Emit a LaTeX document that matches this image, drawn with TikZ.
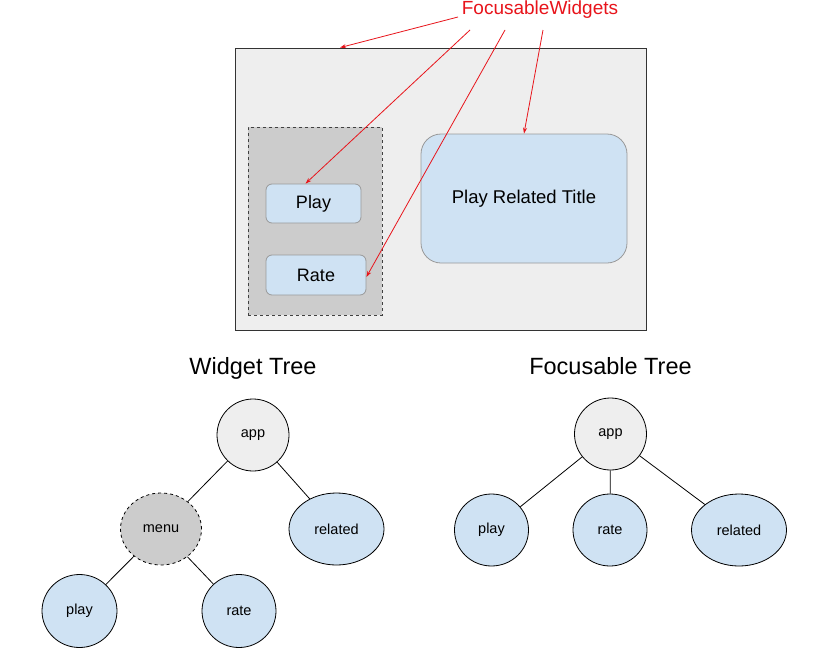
\documentclass[tikz,border=0pt]{standalone}
\usepackage{fontspec}
\setmainfont{Liberation Sans}
\usetikzlibrary{shapes.geometric,arrows.meta}
\definecolor{boxgray}{HTML}{EEEEEE}
\definecolor{midgray}{HTML}{CCCCCC}
\definecolor{lblue}{HTML}{CFE2F3}
\definecolor{bordergray}{HTML}{999999}
\definecolor{redline}{HTML}{E8141B}
\tikzset{
  btn/.style={draw=bordergray, fill=lblue, rounded corners=6pt, line width=0.8pt, font=\fontsize{18}{20}\selectfont, inner sep=0pt},
  tnode/.style={ellipse, draw=black, line width=0.8pt, font=\fontsize{14.5}{16}\selectfont, inner sep=0pt},
  leaf/.style={tnode, fill=lblue},
  rootnode/.style={tnode, fill=boxgray},
  redarrow/.style={draw=redline, line width=0.8pt, -{Stealth[length=6pt,width=4pt]}},
  edge/.style={draw=black, line width=0.8pt},
  treetitle/.style={font=\fontsize{23.5}{26}\selectfont, anchor=base, inner sep=0pt}
}
\begin{document}
\begin{tikzpicture}[x=1pt,y=-1pt]
\useasboundingbox[fill=white] (0,0) rectangle (830,648);
% screen mock-up
\node[draw=black!80, fill=boxgray, line width=0.8pt, minimum width=411pt, minimum height=282pt, inner sep=0pt] (outer) at (440.5,189) {};
\node[draw=black!75, fill=midgray, dashed, line width=0.8pt, minimum width=134pt, minimum height=188pt, inner sep=0pt] (menubox) at (315,221) {};
\node[btn, minimum width=95pt, minimum height=39pt] (play) at (313.5,203.5) {Play};
\node[btn, minimum width=100pt, minimum height=40pt] (rate) at (316,275) {Rate};
\node[btn, rounded corners=20pt, minimum width=206pt, minimum height=129pt, font=\fontsize{18.5}{20}\selectfont] (prt) at (524,198.5) {Play Related Title};
% label and arrows
\node[text=redline, font=\fontsize{19}{21}\selectfont, inner sep=0pt] (fw) at (540,9.5) {FocusableWidgets};
\coordinate (s1) at (458,17);
\coordinate (s2) at (470,30);
\coordinate (s3) at (505,30);
\coordinate (s4) at (543,30);
\draw[redarrow] (s1) -- ([xshift=-100.5pt]outer.north);
\draw[redarrow] (s2) -- ([xshift=-8pt]play.north);
\draw[redarrow] (s3) -- ([yshift=-2pt]rate.east);
\draw[redarrow] (s4) -- (prt.north);
% widget tree
\node[treetitle] (wt) at (253,374) {Widget Tree};
\node[rootnode, minimum width=72pt, minimum height=72pt] (wapp) at (253,435) {app};
\node[tnode, fill=midgray, dashed, minimum width=81pt, minimum height=72pt] (wmenu) at (161,529) {menu};
\node[leaf, minimum width=95pt, minimum height=72pt] (wrel) at (336.5,529) {related};
\node[leaf, minimum width=75pt, minimum height=73pt] (wplay) at (79.5,611) {play};
\node[leaf, minimum width=74pt, minimum height=73pt] (wrate) at (239,611) {rate};
\draw[edge] (wapp) -- (wmenu);
\draw[edge] (wapp) -- (wrel);
\draw[edge] (wmenu) -- (wplay);
\draw[edge] (wmenu) -- (wrate);
% focusable tree
\node[treetitle] (ft) at (610.5,374) {Focusable Tree};
\node[rootnode, minimum width=72pt, minimum height=72pt] (fapp) at (610.5,434) {app};
\node[leaf, minimum width=74pt, minimum height=72pt] (fplay) at (491.5,530) {play};
\node[leaf, minimum width=74pt, minimum height=72pt] (frate) at (610,530) {rate};
\node[leaf, minimum width=95pt, minimum height=72pt] (frel) at (739,530) {related};
\draw[edge] (fapp) -- (fplay);
\draw[edge] (fapp) -- (frate);
\draw[edge] (fapp) -- (frel);
\end{tikzpicture}
\end{document}
